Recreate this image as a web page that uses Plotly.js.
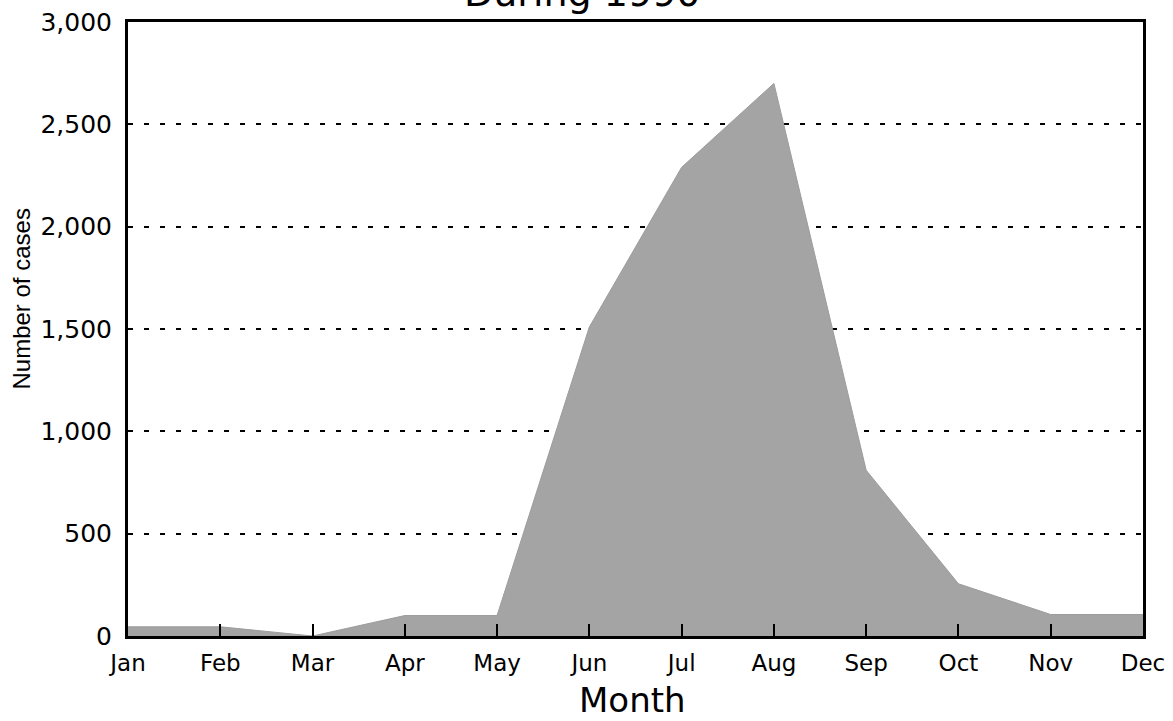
<!DOCTYPE html>
<html>
<head>
<meta charset="utf-8">
<script src="https://cdn.plot.ly/plotly-3.0.1.min.js"></script>
<style>html,body{margin:0;padding:0;background:#fff;}#chart{width:1173px;height:721px;}</style>
</head>
<body>
<div id="chart"></div>
<script>
const months = ["Jan","Feb","Mar","Apr","May","Jun","Jul","Aug","Sep","Oct","Nov","Dec"];
const cases = [45, 45, 0, 100, 100, 1510, 2290, 2700, 810, 255, 105, 105];
const yTicks = [0, 500, 1000, 1500, 2000, 2500, 3000];

const xIdx = months.map((m, i) => i);
const wide = "DejaVu Sans, Verdana, sans-serif";
const narrow = "Liberation Sans, Arial, sans-serif";

const trace = {
  x: xIdx,
  y: cases,
  type: "scatter",
  mode: "lines",
  fill: "tozeroy",
  fillcolor: "#a4a4a4",
  line: {color: "#9c9c9c", width: 1},
  hoverinfo: "x+y"
};

const layout = {
  width: 1173, height: 721,
  margin: {l: 128, r: 30, t: 22, b: 85},
  paper_bgcolor: "#fff", plot_bgcolor: "#fff",
  showlegend: false,
  font: {family: wide, color: "#000"},
  xaxis: {
    range: [0, 11],
    tickvals: xIdx, ticktext: months,
    ticks: "inside", ticklen: 12, tickwidth: 2, tickcolor: "#000",
    showgrid: false, zeroline: false,
    showline: true, linecolor: "#000", linewidth: 3, mirror: true,
    tickfont: {size: 23, family: wide},
    ticklabelstandoff: 4
  },
  yaxis: {
    range: [0, 3000],
    tickvals: yTicks, tickformat: ",d",
    ticks: "", showgrid: true, gridcolor: "#000", griddash: "5px,11px", gridwidth: 2,
    zeroline: false,
    showline: true, linecolor: "#000", linewidth: 3, mirror: true,
    tickfont: {size: 25, family: wide},
    ticklabelstandoff: 8
  },
  annotations: [
    {text: "During 1990", xref: "paper", yref: "paper", x: 0.448, y: 1.0, xanchor: "center", yanchor: "bottom",
     yshift: 5, showarrow: false, font: {size: 38, family: wide, color: "#000"}},
    {text: "Number of cases", xref: "paper", yref: "paper", x: 0, y: 0.548, xanchor: "center", yanchor: "middle",
     xshift: -106, textangle: -90, showarrow: false, font: {size: 24, family: narrow, color: "#000"}},
    {text: "Month", xref: "paper", yref: "paper", x: 0.4966, y: 0, xanchor: "center", yanchor: "bottom",
     yshift: -86, showarrow: false, font: {size: 34, family: wide, color: "#000"}}
  ]
};

Plotly.newPlot("chart", [trace], layout, {displayModeBar: false, staticPlot: true});
</script>
</body>
</html>
